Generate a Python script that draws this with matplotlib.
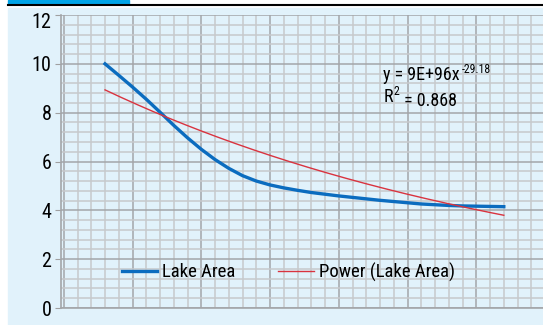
import numpy as np
import matplotlib.pyplot as plt
from matplotlib import font_manager
from matplotlib.ticker import MultipleLocator
from matplotlib.transforms import ScaledTranslation

# Lake area readings (every two years)
years = list(range(1950, 2009, 2))
lake_area = [10.0, 9.53, 9.05, 8.55, 8.02, 7.48, 6.97, 6.5, 6.08, 5.72,
             5.42, 5.2, 5.04, 4.92, 4.82, 4.73, 4.66, 4.59, 4.53, 4.47,
             4.41, 4.36, 4.31, 4.26, 4.23, 4.2, 4.18, 4.17, 4.16, 4.15]
y_ticks = [0, 2, 4, 6, 8, 10, 12]

# power trendline as printed on the chart: y = 9E+96 x^-29.18
trend_coef = 9e96
trend_exp = -29.18

# pick a narrow font if one is there
names = set(f.name for f in font_manager.fontManager.ttflist)
font = 'DejaVu Sans'
for cand in ['Liberation Sans Narrow', 'Roboto Condensed', 'Open Sans Condensed', 'DejaVu Sans Condensed']:
    if cand in names:
        font = cand
        break
stretch = 'condensed'

bg = '#e1f2fb'

fig = plt.figure(figsize=(5.43, 3.25), dpi=100)
fig.patch.set_facecolor('white')

# light blue panel + header bar and rule
fig.add_artist(plt.Rectangle((8/543, 0), 1, 317/325, transform=fig.transFigure, color=bg, zorder=0))
fig.add_artist(plt.Rectangle((8/543, 321/325), 121/543, 4/325, transform=fig.transFigure, color='#00a3e6', zorder=1))
fig.add_artist(plt.Line2D([8/543, 1], [320/325, 320/325], transform=fig.transFigure, color='black', lw=1.5, zorder=1))

ax = fig.add_axes([61/543, 17/325, 482/543, 293/325])
ax.set_facecolor(bg)

xs = np.linspace(years[0], years[-1], 200)
trend = trend_coef * xs ** trend_exp

ax.plot(years, lake_area, color='#0b6cbf', lw=2.4, label='Lake Area', zorder=3)
ax.plot(xs, trend, color='#d9333f', lw=1.0, label='Power (Lake Area)', zorder=3)

ax.set_xlim(1943.6, 2013.7)
ax.set_ylim(0, 12)
ax.set_yticks(y_ticks)
ax.set_yticklabels([str(t) for t in y_ticks], fontfamily=font, fontstretch=stretch, fontsize=14.5)
ax.yaxis.set_minor_locator(MultipleLocator(0.4))
ax.xaxis.set_major_locator(MultipleLocator(10, offset=4))
ax.xaxis.set_minor_locator(MultipleLocator(2))
ax.set_xticklabels([])
ax.tick_params(axis='x', which='both', length=0)
ax.tick_params(axis='y', which='major', length=4, color='#a0a0a0', pad=3)
ax.tick_params(axis='y', which='minor', length=0)

# top label sits a bit lower, inside the panel
top_lbl = ax.yaxis.get_major_ticks()[-1].label1
top_lbl.set_transform(top_lbl.get_transform() + ScaledTranslation(0, -5/100, fig.dpi_scale_trans))

ax.grid(which='minor', color='#c6c9cc', lw=1.1)
ax.grid(which='major', color='#a3a6a9', lw=1.1)
ax.set_axisbelow(True)
for s in ['top', 'right']:
    ax.spines[s].set_visible(False)
for s in ['left', 'bottom']:
    ax.spines[s].set_color('#a3a6a9')
    ax.spines[s].set_linewidth(1.2)

eq = ax.text(1990.5, 9.35, 'y = 9E+96x', fontfamily=font, fontstretch=stretch, fontsize=13, va='baseline')
ax.annotate('-29.18', xy=(1, 0.62), xycoords=eq, xytext=(1, 0), textcoords='offset points',
            fontfamily=font, fontstretch=stretch, fontsize=8.5, va='baseline')
r2 = ax.text(1990.5, 8.45, 'R', fontfamily=font, fontstretch=stretch, fontsize=13, va='baseline')
ax.annotate('2', xy=(1, 0.62), xycoords=r2, xytext=(0.5, 0), textcoords='offset points',
            fontfamily=font, fontstretch=stretch, fontsize=8.5, va='baseline')
ax.annotate(' = 0.868', xy=(1, 0), xycoords=r2, xytext=(5, 0), textcoords='offset points',
            fontfamily=font, fontstretch=stretch, fontsize=13, va='baseline')

leg = ax.legend(loc='center', bbox_to_anchor=(0.471, 0.123), ncol=2, frameon=False,
                prop={'family': font, 'stretch': stretch, 'size': 13.5},
                handlelength=1.9, columnspacing=2.3, handletextpad=0.25)

fig.savefig('out.png', dpi=100, facecolor=fig.get_facecolor())
